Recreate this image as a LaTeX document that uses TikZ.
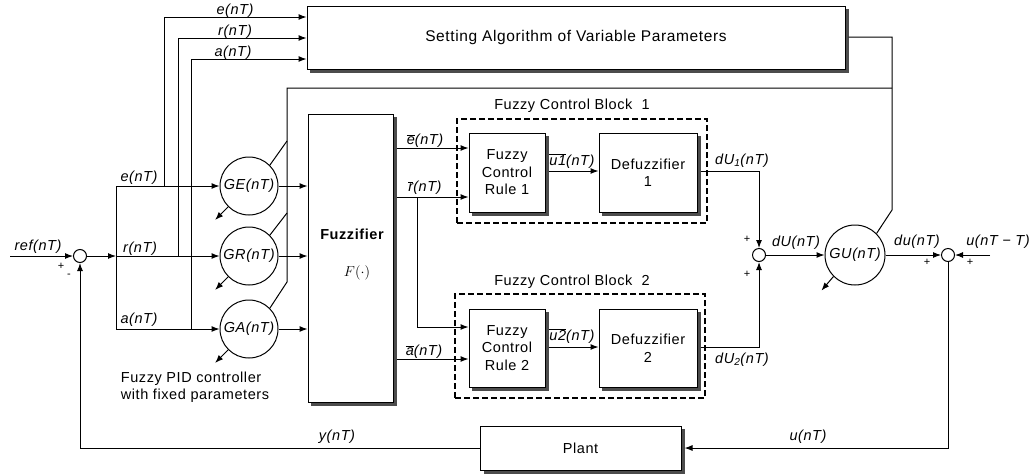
\documentclass[tikz,border=0pt]{standalone}
\usepackage{fontspec}
\setmainfont{Liberation Sans}[LetterSpace=4]
\usetikzlibrary{arrows.meta,calc}
\begin{document}
\begin{tikzpicture}[x=1pt,y=-1pt,
 font=\fontsize{14.5}{17.5}\selectfont,
 line width=1pt,
 arr/.style={-{Latex[length=8pt,width=6pt]}},
 blk/.style={draw,fill=white,line width=1pt,align=center,inner sep=0pt},
 shd/.style={fill=black!70},
 gain/.style={draw,circle,inner sep=0pt,fill=white,font=\fontsize{14.5}{17}\selectfont\itshape},
 sumj/.style={draw,circle,inner sep=0pt,minimum size=13pt,fill=white},
 lbl/.style={font=\fontsize{14.5}{17}\selectfont\itshape,inner sep=0pt},
 sgn/.style={font=\fontsize{11}{12}\selectfont,inner sep=0pt},
 grp/.style={draw,dash pattern=on 6pt off 3pt,line width=1.2pt,inner sep=0pt}]
\useasboundingbox (0,0) rectangle (1032,474);

% drop shadows of the blocks
\fill[shd] (310,9) rectangle (848.5,72.5);
\fill[shd] (311,117) rectangle (396.5,405.5);
\fill[shd] (472,136) rectangle (548.5,215.5);
\fill[shd] (602,136) rectangle (700.5,215.5);
\fill[shd] (472,312) rectangle (548.5,390.5);
\fill[shd] (602,312) rectangle (700.5,390.5);
\fill[shd] (483.5,429) rectangle (684.5,473.5);

% blocks
\node[blk,minimum width=538pt,minimum height=63pt,font=\fontsize{15.5}{18}\selectfont] (Set) at (576,37.5) {Setting Algorithm of Variable Parameters};
\node[blk,minimum width=85pt,minimum height=288pt] (Fz) at (350.5,258) {};
\node[font=\fontsize{14.5}{17}\selectfont\bfseries] (FzT) at (352,234) {Fuzzifier};
\node (FzF) at (357,273) {$F(\cdot)$};

\node[grp,minimum width=250pt,minimum height=104pt] (B1) at (582,171) {};
\node[grp,minimum width=250pt,minimum height=104pt] (B2) at (580,346) {};
\node (B1t) at (572,106) {Fuzzy Control Block\ \ 1};
\node (B2t) at (572,282) {Fuzzy Control Block\ \ 2};

\node[blk,minimum width=76pt,minimum height=79pt] (R1) at (507,172.5) {Fuzzy\\Control\\Rule 1};
\node[blk,minimum width=98pt,minimum height=79pt] (D1) at (648,172.5) {Defuzzifier\\1};
\node[blk,minimum width=76pt,minimum height=78pt] (R2) at (507,348) {Fuzzy\\Control\\Rule 2};
\node[blk,minimum width=98pt,minimum height=78pt] (D2) at (648,348) {Defuzzifier\\2};

\node[blk,minimum width=201pt,minimum height=44pt] (Pl) at (580.5,448) {Plant};

% gains and junctions
\node[gain,minimum size=58pt] (GE) at (249,186) {GE(nT)};
\node[gain,minimum size=58pt] (GR) at (249,256) {GR(nT)};
\node[gain,minimum size=58pt] (GA) at (249,329) {GA(nT)};
\node[gain,minimum size=60pt] (GU) at (855,255) {GU(nT)};
\node[sumj] (s1) at (80,256) {};
\node[sumj] (s2) at (759,255) {};
\node[sumj] (s3) at (948,255) {};

\coordinate (refin) at (10,256);
\coordinate (j1) at (116,256);
\coordinate (uin) at (990,255);
\coordinate (rb) at (417,197);

% input side
\draw[arr] (refin) -- (s1);
\draw[arr] (s1) -- (j1);
\draw (116,186) -- (116,329);
\draw[arr] (116,186) -- (GE.west);
\draw[arr] (j1) -- (GR.west);
\draw[arr] (116,329) -- (GA.west);
\draw[arr] (164,186) |- (Set.west |- 0,17);
\draw[arr] (178,256) |- (Set.west |- 0,38);
\draw[arr] (191,329) |- (Set.west |- 0,59);

\draw[arr] (GE.east) -- (Fz.west |- GE.east);
\draw[arr] (GR.east) -- (Fz.west |- GR.east);
\draw[arr] (GA.east) -- (Fz.west |- GA.east);

% parameter adjustment lines
\draw (848.5,37) -- (892,37) -- (892,210) -- (GU.north east);
\draw (892,88) -- (287,88) -- (287,282) -- (GA.north east);
\draw (287,141) -- (GE.north east);
\draw (287,213) -- (GR.north east);
\draw[arr] (GE.south west) -- ++(-13,13);
\draw[arr] (GR.south west) -- ++(-13,13);
\draw[arr] (GA.south west) -- ++(-13,13);
\draw[arr] (GU.south west) -- ++(-12,14);

% fuzzifier outputs
\draw[arr] (396.5,148) -- (R1.west |- 0,148);
\draw[arr] (396.5,197) -- (R1.west |- 0,197);
\draw[arr] (rb) |- (R2.west |- 0,327);
\draw[arr] (396.5,359) -- (R2.west |- 0,359);
\draw[arr] (548.5,171) -- (D1.west |- 0,171);
\draw[arr] (548.5,347) -- (D2.west |- 0,347);

% output side
\draw[arr] (700.5,171) -| (s2.north);
\draw[arr] (700.5,347) -| (s2.south);
\draw[arr] (s2) -- (GU.west);
\draw[arr] (GU.east) -- (s3.west);
\draw[arr] (uin) -- (s3.east);
\draw[arr] (s3.south) |- (684.5,448);
\draw[arr] (Pl.west) -| (s1.south);

% labels
\node[lbl] at (38,247) {ref(nT)};
\node[sgn] at (61,266) {+};
\node[sgn] at (69,276) {-};
\node[lbl] at (139,178) {e(nT)};
\node[lbl] at (140,249) {r(nT)};
\node[lbl] at (139,320) {a(nT)};
\node[lbl] at (235,11) {e(nT)};
\node[lbl] at (235,32) {r(nT)};
\node[lbl] at (233,53) {a(nT)};
\node[lbl] at (425,141) {$\overline{\mbox{\itshape e}}$(nT)};
\node[lbl] at (425,188) {$\overline{\mbox{\itshape r}}$(nT)};
\node[lbl] at (424,352) {$\overline{\mbox{\itshape a}}$(nT)};
\node[lbl] at (572,161) {$\overline{\mbox{\itshape u1}}$(nT)};
\node[lbl] at (572,336) {$\overline{\mbox{\itshape u2}}$(nT)};
\node[lbl] at (742,161) {dU\textsubscript{1}(nT)};
\node[lbl] at (742,360) {dU\textsubscript{2}(nT)};
\node[sgn] at (747,239) {+};
\node[sgn] at (747,274) {+};
\node[lbl] at (796,243) {dU(nT)};
\node[lbl] at (917,242) {du(nT)};
\node[lbl] at (998,242) {u(nT − T)};
\node[sgn] at (927,262) {+};
\node[sgn] at (970,262) {+};
\node[lbl] at (337,437) {y(nT)};
\node[lbl] at (808,437) {u(nT)};
\node[align=left,inner sep=0pt] at (195,387) {Fuzzy PID controller\\with fixed parameters};
\end{tikzpicture}
\end{document}
